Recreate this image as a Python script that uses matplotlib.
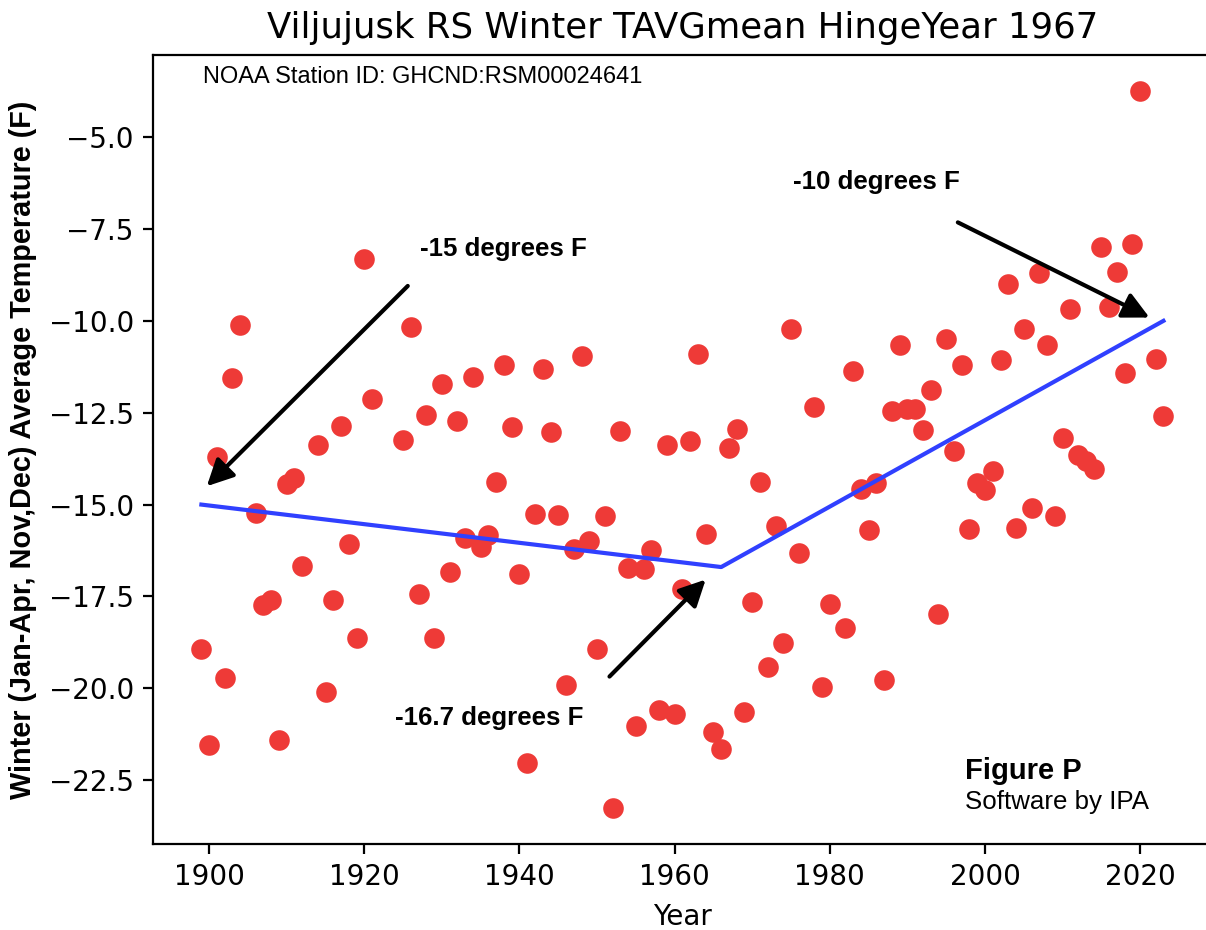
import matplotlib
matplotlib.use("Agg")
from matplotlib import pyplot

years = [1899, 1900, 1901, 1902, 1903, 1904, 1906, 1907, 1908, 1909,
         1910, 1911, 1912, 1914, 1915, 1916, 1917, 1918, 1919, 1920,
         1921, 1925, 1926, 1927, 1928, 1929, 1930, 1931, 1932, 1933,
         1934, 1935, 1936, 1937, 1938, 1939, 1940, 1941, 1942, 1943,
         1944, 1945, 1946, 1947, 1948, 1949, 1950, 1951, 1952, 1953,
         1954, 1955, 1956, 1957, 1958, 1959, 1960, 1961, 1962, 1963,
         1964, 1965, 1966, 1967, 1968, 1969, 1970, 1971, 1972, 1973,
         1974, 1975, 1976, 1978, 1979, 1980, 1982, 1983, 1984, 1985,
         1986, 1987, 1988, 1989, 1990, 1991, 1992, 1993, 1994, 1995,
         1996, 1997, 1998, 1999, 2000, 2001, 2002, 2003, 2004, 2005,
         2006, 2007, 2008, 2009, 2010, 2011, 2012, 2013, 2014, 2015,
         2016, 2017, 2018, 2019, 2020, 2022, 2023]

tavg = [-18.93, -21.54, -13.70, -19.72, -11.55, -10.10, -15.23, -17.72, -17.59, -21.40,
        -14.43, -14.27, -16.68, -13.37, -20.10, -17.59, -12.87, -16.06, -18.62, -8.32,
        -12.12, -13.23, -10.16, -17.43, -12.57, -18.62, -11.73, -16.84, -12.73, -15.91,
        -11.52, -16.15, -15.84, -14.39, -11.19, -12.89, -16.89, -22.04, -15.25, -11.30,
        -13.02, -15.27, -19.90, -16.20, -10.96, -16.00, -18.93, -15.31, -23.26, -13.01,
        -16.72, -21.02, -16.75, -16.23, -20.60, -13.37, -20.69, -17.30, -13.26, -10.90,
        -15.79, -21.20, -21.65, -13.46, -12.94, -20.65, -17.66, -14.39, -19.42, -15.57,
        -18.77, -10.21, -16.32, -12.34, -19.97, -17.70, -18.36, -11.37, -14.57, -15.68,
        -14.41, -19.77, -12.46, -10.66, -12.39, -12.41, -12.96, -11.87, -17.97, -10.50,
        -13.55, -11.19, -15.66, -14.41, -14.61, -14.09, -11.07, -8.99, -15.64, -10.21,
        -15.09, -8.71, -10.67, -15.30, -13.18, -9.67, -13.64, -13.82, -14.03, -7.98,
        -9.62, -8.66, -11.41, -7.92, -3.74, -11.05, -12.59]

# hinge fit
fit_years = [1899, 1966, 2023]
fit_vals = [-15.0, -16.7, -10.0]

HELV = ['Liberation Sans', 'Arial', 'DejaVu Sans']

fig = pyplot.figure(figsize=(6.03, 4.65), dpi=200)
ax = fig.add_axes([0.1271, 0.0925, 0.8775, 0.8484])

ax.scatter(years, tavg, color='#ee3a37', s=55, zorder=3, linewidths=0)
ax.plot(fit_years, fit_vals, color='#3040ff', lw=1.5, zorder=4)

# right edge of the axes falls outside the picture
ax.spines['right'].set_visible(False)

ax.set_title('Viljujusk RS Winter TAVGmean HingeYear 1967', fontsize=12.8)
ax.set_xlabel('Year', fontsize=10)
ax.set_ylabel('Winter (Jan-Apr, Nov,Dec) Average Temperature (F)',
              fontsize=10.4, fontweight='bold', family=HELV)

ax.text(0.047, 0.9645, 'NOAA Station ID: GHCND:RSM00024641', transform=ax.transAxes,
        fontsize=8.5, family=HELV, va='baseline')

arrow = dict(arrowstyle='-|>', color='black', lw=1.5, mutation_scale=20,
             shrinkA=0, shrinkB=0)
ax.annotate('', xy=(1899.7, -14.5), xytext=(1925.6, -9.05), arrowprops=arrow)
ax.annotate('', xy=(1964.0, -17.04), xytext=(1951.6, -19.68), arrowprops=arrow)
ax.annotate('', xy=(2021.2, -9.91), xytext=(1996.5, -7.32), arrowprops=arrow)

ax.text(1927.2, -8.05, '-15 degrees F', fontsize=9.3, fontweight='bold', family=HELV, va='center')
ax.text(1924.0, -20.8, '-16.7 degrees F', fontsize=9.3, fontweight='bold', family=HELV, va='center')
ax.text(1975.3, -6.23, '-10 degrees F', fontsize=9.3, fontweight='bold', family=HELV, va='center')

ax.text(1997.4, -22.25, 'Figure P', fontsize=10.5, fontweight='bold', family=HELV, va='center')
ax.text(1997.4, -23.09, 'Software by IPA', fontsize=9.3, family=HELV, va='center')

pyplot.savefig('out.png', dpi=200)
